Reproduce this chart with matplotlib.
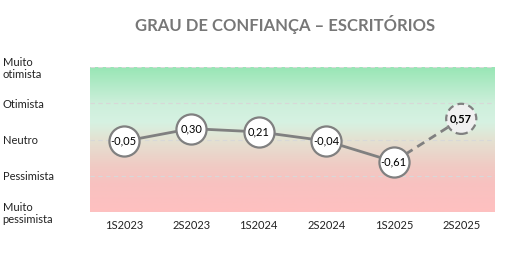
import matplotlib
matplotlib.use("Agg")
import matplotlib.pyplot as plt
import numpy as np
from matplotlib.colors import LinearSegmentedColormap

periods = ["1S2023", "2S2023", "1S2024", "2S2024", "1S2025", "2S2025"]
values = [-0.05, 0.30, 0.21, -0.04, -0.61, 0.57]
labels = ["-0,05", "0,30", "0,21", "-0,04", "-0,61", "0,57"]
levels = [-2, -1, 0, 1, 2]
level_names = ["Muito\npessimista", "Pessimista", "Neutro", "Otimista", "Muito\notimista"]

plt.rcParams["font.family"] = ["Lato", "DejaVu Sans"]

fig = plt.figure(figsize=(5.24, 2.59), dpi=100)
ax = fig.add_axes([90 / 524, 1 - 212 / 259, 405 / 524, 145 / 259])

# background gradient, bottom (pessimistic) to top (optimistic)
cmap = LinearSegmentedColormap.from_list("mood", [
    (0.0, "#ffc0c0"), (0.2, "#f8c2c0"), (0.32, "#f0cbc4"),
    (0.5, "#e4e2d2"), (0.62, "#d6f2e2"), (0.75, "#cdefdb"), (1.0, "#98e6b5")])
grad = np.linspace(0, 1, 256).reshape(-1, 1)
ax.imshow(grad, aspect="auto", cmap=cmap, origin="lower",
          extent=[-0.5, len(periods) - 0.5, levels[0], levels[-1]], zorder=0)

for lv in levels:
    ax.axhline(lv, color="#d8d8d8", lw=0.8, ls=(0, (4, 3)), zorder=1)

x = np.arange(len(periods))
ax.plot(x[:-1], values[:-1], color="#808080", lw=2, zorder=2)
ax.plot(x[-2:], values[-2:], color="#808080", lw=2, ls=(0, (3, 2)), zorder=2)
ax.scatter(x[:-1], values[:-1], s=470, facecolor="white", edgecolor="#808080",
           lw=1.6, zorder=3)
ax.scatter(x[-1:], values[-1:], s=470, facecolor="#f0f0f0", edgecolor="#808080",
           lw=1.6, linestyle=(0, (3, 2)), zorder=3)
for i, (v, t) in enumerate(zip(values, labels)):
    ax.text(i, v, t, ha="center", va="center", fontsize=8, color="black",
            fontweight="bold" if i == len(values) - 1 else "normal", zorder=4)

ax.set_xlim(-0.5, len(periods) - 0.5)
ax.set_ylim(levels[0], levels[-1])
ax.set_xticks(x)
ax.set_xticklabels(periods, fontsize=8, color="#222222")
ax.set_yticks(levels)
ax.set_yticklabels(level_names, fontsize=8, color="#222222", ha="left",
                   linespacing=1.1)
ax.tick_params(axis="y", length=0, pad=63)
ax.tick_params(axis="x", length=0, pad=6)
for s in ax.spines.values():
    s.set_visible(False)

fig.text(285 / 524, 1 - 25 / 259, "GRAU DE CONFIANÇA – ESCRITÓRIOS", ha="center",
         va="center", fontsize=12, fontweight="bold", color="#777777")

fig.savefig("out.png", dpi=100)
